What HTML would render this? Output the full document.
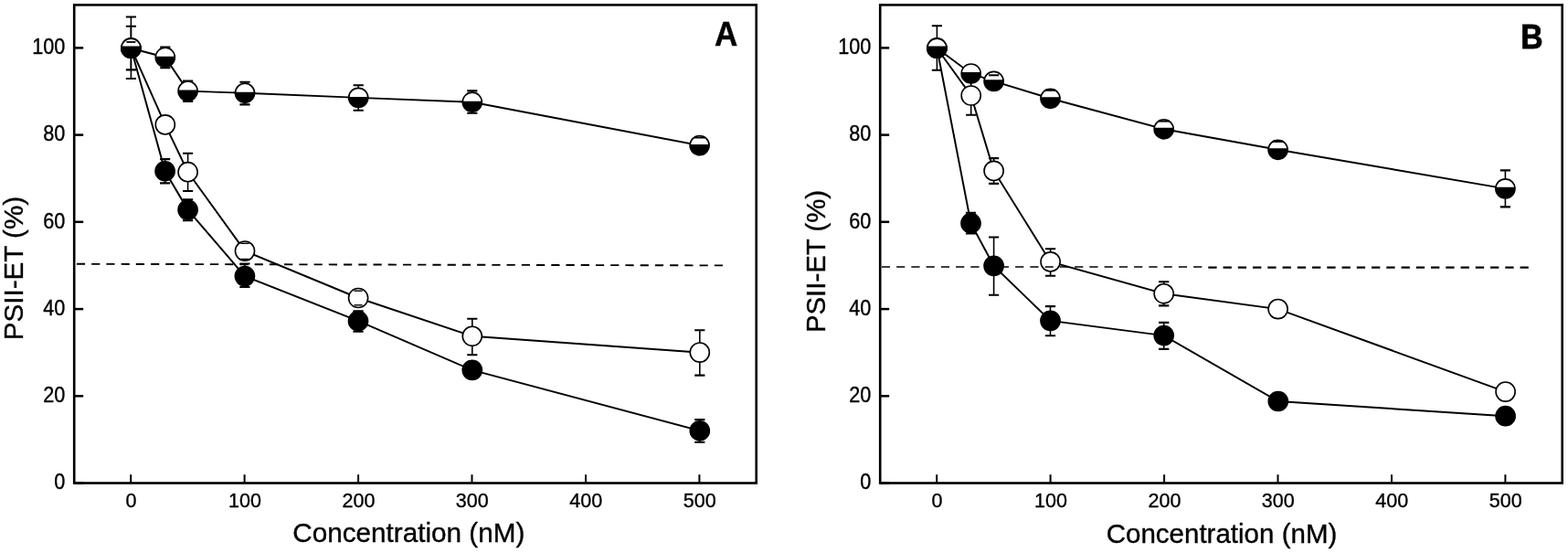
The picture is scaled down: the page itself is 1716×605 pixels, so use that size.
<!DOCTYPE html>
<html lang="en"><head><meta charset="utf-8"><title>PSII-ET vs Concentration</title>
<style>
html,body{margin:0;padding:0;background:#fff}
body{width:1716px;height:605px;overflow:hidden}
svg{display:block}
svg text{font-family:"Liberation Sans",sans-serif;fill:#000;stroke:#000;stroke-width:0.35px}
</style></head><body>
<svg width="1716" height="605" viewBox="0 0 1716 605">
<rect width="1716" height="605" fill="#fff"/>
<g id="panelA">
<g stroke="#000" stroke-width="2.5" fill="none">
<path d="M81.2 528.5h10"/>
<path d="M81.2 433.3h10"/>
<path d="M81.2 338.1h10"/>
<path d="M81.2 242.8h10"/>
<path d="M81.2 147.6h10"/>
<path d="M81.2 52.4h10"/>
<path d="M143.2 528.5v-9.3" stroke-width="2"/>
<path d="M267.6 528.5v-9.3" stroke-width="2"/>
<path d="M392.1 528.5v-9.3" stroke-width="2"/>
<path d="M516.5 528.5v-9.3" stroke-width="2"/>
<path d="M641.0 528.5v-9.3" stroke-width="2"/>
<path d="M765.4 528.5v-9.3" stroke-width="2"/>
</g>
<rect x="81.2" y="5.4" width="746.5" height="523.1" fill="none" stroke="#000" stroke-width="2.6"/>
<g font-size="22.8" fill="#000">
<text transform="translate(71.3 535.3) scale(0.95 1.04)" text-anchor="end">0</text>
<text transform="translate(71.3 440.1) scale(0.95 1.04)" text-anchor="end">20</text>
<text transform="translate(71.3 344.9) scale(0.95 1.04)" text-anchor="end">40</text>
<text transform="translate(71.3 249.6) scale(0.95 1.04)" text-anchor="end">60</text>
<text transform="translate(71.3 154.4) scale(0.95 1.04)" text-anchor="end">80</text>
<text transform="translate(71.3 59.2) scale(0.95 1.04)" text-anchor="end">100</text>
<text transform="translate(143.5 554.9) scale(0.945 1)" text-anchor="middle">0</text>
<text transform="translate(267.9 554.9) scale(0.945 1)" text-anchor="middle">100</text>
<text transform="translate(392.4 554.9) scale(0.945 1)" text-anchor="middle">200</text>
<text transform="translate(516.8 554.9) scale(0.945 1)" text-anchor="middle">300</text>
<text transform="translate(641.3 554.9) scale(0.945 1)" text-anchor="middle">400</text>
<text transform="translate(765.7 554.9) scale(0.945 1)" text-anchor="middle">500</text>
</g>
<text x="447.3" y="593.2" font-size="28.6" text-anchor="middle" textLength="254" lengthAdjust="spacingAndGlyphs">Concentration (nM)</text>
<text transform="translate(25.2 293.6) rotate(-90)" font-size="29" text-anchor="middle" textLength="157.3" lengthAdjust="spacingAndGlyphs">PSII-ET (%)</text>
<text transform="translate(794.7 50.3) scale(1.0 1.05)" font-size="35" font-weight="bold" text-anchor="middle" style="stroke-width:0.4px">A</text>
<path d="M143.4 52.7L180.6 187.3L205.6 229.6L267.9 302.1L392.0 351.2L516.8 404.9L765.8 471.3" fill="none" stroke="#000" stroke-width="1.95"/>
<g fill="none" stroke="#000" stroke-width="1.8">

<path d="M180.6 174.1V200.4" stroke-width="1.6"/><path d="M175.0 174.1h11.2M175.0 200.4h11.2" stroke-width="2.1"/>
<path d="M205.6 218.2V241.3" stroke-width="1.6"/><path d="M200.0 218.2h11.2M200.0 241.3h11.2" stroke-width="2.1"/>
<path d="M267.9 288.5V314.0" stroke-width="1.6"/><path d="M262.3 288.5h11.2M262.3 314.0h11.2" stroke-width="2.1"/>
<path d="M392.0 340.2V362.7" stroke-width="1.6"/><path d="M386.4 340.2h11.2M386.4 362.7h11.2" stroke-width="2.1"/>

<path d="M765.8 459.1V483.8" stroke-width="1.6"/><path d="M760.2 459.1h11.2M760.2 483.8h11.2" stroke-width="2.1"/>
</g>
<circle cx="143.4" cy="52.7" r="10.55" fill="#000" stroke="#000" stroke-width="1.6"/>
<circle cx="180.6" cy="187.3" r="10.55" fill="#000" stroke="#000" stroke-width="1.6"/>
<circle cx="205.6" cy="229.6" r="10.55" fill="#000" stroke="#000" stroke-width="1.6"/>
<circle cx="267.9" cy="302.1" r="10.55" fill="#000" stroke="#000" stroke-width="1.6"/>
<circle cx="392.0" cy="351.2" r="10.55" fill="#000" stroke="#000" stroke-width="1.6"/>
<circle cx="516.8" cy="404.9" r="10.55" fill="#000" stroke="#000" stroke-width="1.6"/>
<circle cx="765.8" cy="471.3" r="10.55" fill="#000" stroke="#000" stroke-width="1.6"/>
<path d="M143.4 52.7L180.8 136.4L205.6 188.2L268.0 274.6L392.1 326.0L516.8 367.8L765.8 385.6" fill="none" stroke="#000" stroke-width="1.95"/>
<g fill="none" stroke="#000" stroke-width="1.8">


<path d="M205.6 167.7V209.0" stroke-width="1.6"/><path d="M200.0 167.7h11.2M200.0 209.0h11.2" stroke-width="2.1"/>
<path d="M268.0 266.3V283.5" stroke-width="1.6"/><path d="M262.4 266.3h11.2M262.4 283.5h11.2" stroke-width="2.1"/>
<path d="M392.1 318.2V333.8" stroke-width="1.6"/><path d="M386.5 318.2h11.2M386.5 333.8h11.2" stroke-width="2.1"/>
<path d="M516.8 348.8V388.2" stroke-width="1.6"/><path d="M511.2 348.8h11.2M511.2 388.2h11.2" stroke-width="2.1"/>
<path d="M765.8 361.3V410.6" stroke-width="1.6"/><path d="M760.2 361.3h11.2M760.2 410.6h11.2" stroke-width="2.1"/>
</g>
<circle cx="143.4" cy="52.7" r="10.55" fill="#fff" stroke="#000" stroke-width="1.6"/>
<circle cx="180.8" cy="136.4" r="10.55" fill="#fff" stroke="#000" stroke-width="1.6"/>
<circle cx="205.6" cy="188.2" r="10.55" fill="#fff" stroke="#000" stroke-width="1.6"/>
<circle cx="268.0" cy="274.6" r="10.55" fill="#fff" stroke="#000" stroke-width="1.6"/>
<circle cx="392.1" cy="326.0" r="10.55" fill="#fff" stroke="#000" stroke-width="1.6"/>
<circle cx="516.8" cy="367.8" r="10.55" fill="#fff" stroke="#000" stroke-width="1.6"/>
<circle cx="765.8" cy="385.6" r="10.55" fill="#fff" stroke="#000" stroke-width="1.6"/>
<path d="M263.4 266.3h9.2" fill="none" stroke="#000" stroke-width="1.4"/>
<path d="M263.4 283.5h9.2" fill="none" stroke="#000" stroke-width="1.4"/>
<path d="M387.5 318.2h9.2" fill="none" stroke="#000" stroke-width="1.4"/>
<path d="M387.5 333.8h9.2" fill="none" stroke="#000" stroke-width="1.4"/>
<path d="M143.4 52.7L180.8 62.7L205.6 99.6L268.0 101.8L392.2 106.9L516.8 111.7L765.6 159.1" fill="none" stroke="#000" stroke-width="1.95"/>
<g fill="none" stroke="#000" stroke-width="1.8">

<path d="M180.8 51.5V74.2" stroke-width="1.6"/><path d="M175.2 51.5h11.2M175.2 74.2h11.2" stroke-width="2.1"/>
<path d="M205.6 88.6V110.9" stroke-width="1.6"/><path d="M200.0 88.6h11.2M200.0 110.9h11.2" stroke-width="2.1"/>
<path d="M268.0 89.8V114.4" stroke-width="1.6"/><path d="M262.4 89.8h11.2M262.4 114.4h11.2" stroke-width="2.1"/>
<path d="M392.2 93.2V120.7" stroke-width="1.6"/><path d="M386.6 93.2h11.2M386.6 120.7h11.2" stroke-width="2.1"/>
<path d="M516.8 99.4V123.8" stroke-width="1.6"/><path d="M511.2 99.4h11.2M511.2 123.8h11.2" stroke-width="2.1"/>
<path d="M765.6 150.5V167.7" stroke-width="1.6"/><path d="M760.0 150.5h11.2M760.0 167.7h11.2" stroke-width="2.1"/>
<path d="M143.4 18.5V86.0" stroke-width="1.6"/><path d="M137.8 18.5h11.2M137.8 86.0h11.2" stroke-width="2.1"/>
<path d="M143.4 28.7V76.4" stroke-width="1.6"/><path d="M137.8 28.7h11.2M137.8 76.4h11.2" stroke-width="2.1"/>
<path d="M143.4 45.7V59.7" stroke-width="1.6"/><path d="M137.8 45.7h11.2M137.8 59.7h11.2" stroke-width="2.1"/>
</g>
<circle cx="143.4" cy="52.7" r="10.55" fill="#fff" stroke="#000" stroke-width="1.6"/>
<path d="M133.10 50.40A10.55 10.55 0 1 0 153.70 50.40Z" fill="#000"/>
<circle cx="180.8" cy="62.7" r="10.55" fill="#fff" stroke="#000" stroke-width="1.6"/>
<path d="M170.30 61.70A10.55 10.55 0 1 0 191.30 61.70Z" fill="#000"/>
<circle cx="205.6" cy="99.6" r="10.55" fill="#fff" stroke="#000" stroke-width="1.6"/>
<path d="M195.10 98.60A10.55 10.55 0 1 0 216.10 98.60Z" fill="#000"/>
<circle cx="268.0" cy="101.8" r="10.55" fill="#fff" stroke="#000" stroke-width="1.6"/>
<path d="M257.50 100.80A10.55 10.55 0 1 0 278.50 100.80Z" fill="#000"/>
<circle cx="392.2" cy="106.9" r="10.55" fill="#fff" stroke="#000" stroke-width="1.6"/>
<path d="M381.70 105.90A10.55 10.55 0 1 0 402.70 105.90Z" fill="#000"/>
<circle cx="516.8" cy="111.7" r="10.55" fill="#fff" stroke="#000" stroke-width="1.6"/>
<path d="M506.30 110.70A10.55 10.55 0 1 0 527.30 110.70Z" fill="#000"/>
<circle cx="765.6" cy="159.1" r="10.55" fill="#fff" stroke="#000" stroke-width="1.6"/>
<path d="M755.10 158.10A10.55 10.55 0 1 0 776.10 158.10Z" fill="#000"/>
<path d="M760.0 150.5h11.2" fill="none" stroke="#000" stroke-width="2"/>
<path d="M138.4 46.0h10" stroke="#000" stroke-width="1.8" fill="none"/>
<path d="M83.9 288.8L791.4 290.4" stroke="#000" stroke-width="1.9" stroke-dasharray="9.2 7.03" fill="none"/>
</g>
<g id="panelB">
<g stroke="#000" stroke-width="2.5" fill="none">
<path d="M963.2 528.5h10"/>
<path d="M963.2 433.3h10"/>
<path d="M963.2 338.1h10"/>
<path d="M963.2 242.8h10"/>
<path d="M963.2 147.6h10"/>
<path d="M963.2 52.4h10"/>
<path d="M1025.2 528.5v-9.3" stroke-width="2"/>
<path d="M1149.6 528.5v-9.3" stroke-width="2"/>
<path d="M1274.1 528.5v-9.3" stroke-width="2"/>
<path d="M1398.5 528.5v-9.3" stroke-width="2"/>
<path d="M1523.0 528.5v-9.3" stroke-width="2"/>
<path d="M1647.4 528.5v-9.3" stroke-width="2"/>
</g>
<rect x="963.2" y="5.4" width="746.5" height="523.1" fill="none" stroke="#000" stroke-width="2.6"/>
<g font-size="22.8" fill="#000">
<text transform="translate(953.3 535.3) scale(0.95 1.04)" text-anchor="end">0</text>
<text transform="translate(953.3 440.1) scale(0.95 1.04)" text-anchor="end">20</text>
<text transform="translate(953.3 344.9) scale(0.95 1.04)" text-anchor="end">40</text>
<text transform="translate(953.3 249.6) scale(0.95 1.04)" text-anchor="end">60</text>
<text transform="translate(953.3 154.4) scale(0.95 1.04)" text-anchor="end">80</text>
<text transform="translate(953.3 59.2) scale(0.95 1.04)" text-anchor="end">100</text>
<text transform="translate(1025.5 554.9) scale(0.945 1)" text-anchor="middle">0</text>
<text transform="translate(1149.9 554.9) scale(0.945 1)" text-anchor="middle">100</text>
<text transform="translate(1274.4 554.9) scale(0.945 1)" text-anchor="middle">200</text>
<text transform="translate(1398.8 554.9) scale(0.945 1)" text-anchor="middle">300</text>
<text transform="translate(1523.3 554.9) scale(0.945 1)" text-anchor="middle">400</text>
<text transform="translate(1647.7 554.9) scale(0.945 1)" text-anchor="middle">500</text>
</g>
<text x="1337.0" y="593.9" font-size="28.6" text-anchor="middle" textLength="252.7" lengthAdjust="spacingAndGlyphs">Concentration (nM)</text>
<text transform="translate(903.1 286.0) rotate(-90)" font-size="29" text-anchor="middle" textLength="156.2" lengthAdjust="spacingAndGlyphs">PSII-ET (%)</text>
<text transform="translate(1676.5 52.6) scale(0.965 1.05)" font-size="35" font-weight="bold" text-anchor="middle" style="stroke-width:0.8px">B</text>
<path d="M1025.4 52.7L1062.5 244.2L1087.6 290.9L1149.5 350.9L1273.7 367.1L1398.8 439.0L1647.6 455.2" fill="none" stroke="#000" stroke-width="1.95"/>
<g fill="none" stroke="#000" stroke-width="1.8">

<path d="M1062.5 232.7V255.5" stroke-width="1.6"/><path d="M1056.9 232.7h11.2M1056.9 255.5h11.2" stroke-width="2.1"/>
<path d="M1087.6 259.5V322.7" stroke-width="1.6"/><path d="M1082.0 259.5h11.2M1082.0 322.7h11.2" stroke-width="2.1"/>
<path d="M1149.5 335.1V367.3" stroke-width="1.6"/><path d="M1143.9 335.1h11.2M1143.9 367.3h11.2" stroke-width="2.1"/>
<path d="M1273.7 352.9V381.9" stroke-width="1.6"/><path d="M1268.1 352.9h11.2M1268.1 381.9h11.2" stroke-width="2.1"/>


</g>
<circle cx="1025.4" cy="52.7" r="10.55" fill="#000" stroke="#000" stroke-width="1.6"/>
<circle cx="1062.5" cy="244.2" r="10.55" fill="#000" stroke="#000" stroke-width="1.6"/>
<circle cx="1087.6" cy="290.9" r="10.55" fill="#000" stroke="#000" stroke-width="1.6"/>
<circle cx="1149.5" cy="350.9" r="10.55" fill="#000" stroke="#000" stroke-width="1.6"/>
<circle cx="1273.7" cy="367.1" r="10.55" fill="#000" stroke="#000" stroke-width="1.6"/>
<circle cx="1398.8" cy="439.0" r="10.55" fill="#000" stroke="#000" stroke-width="1.6"/>
<circle cx="1647.6" cy="455.2" r="10.55" fill="#000" stroke="#000" stroke-width="1.6"/>
<path d="M1025.4 52.7L1062.7 104.5L1087.6 186.9L1149.6 286.4L1273.7 321.3L1398.6 338.1L1647.6 428.6" fill="none" stroke="#000" stroke-width="1.95"/>
<g fill="none" stroke="#000" stroke-width="1.8">

<path d="M1062.7 83.2V125.8" stroke-width="1.6"/><path d="M1057.1 83.2h11.2M1057.1 125.8h11.2" stroke-width="2.1"/>
<path d="M1087.6 173.1V200.9" stroke-width="1.6"/><path d="M1082.0 173.1h11.2M1082.0 200.9h11.2" stroke-width="2.1"/>
<path d="M1149.6 272.2V301.8" stroke-width="1.6"/><path d="M1144.0 272.2h11.2M1144.0 301.8h11.2" stroke-width="2.1"/>
<path d="M1273.7 308.2V334.4" stroke-width="1.6"/><path d="M1268.1 308.2h11.2M1268.1 334.4h11.2" stroke-width="2.1"/>


</g>
<circle cx="1025.4" cy="52.7" r="10.55" fill="#fff" stroke="#000" stroke-width="1.6"/>
<circle cx="1062.7" cy="104.5" r="10.55" fill="#fff" stroke="#000" stroke-width="1.6"/>
<circle cx="1087.6" cy="186.9" r="10.55" fill="#fff" stroke="#000" stroke-width="1.6"/>
<circle cx="1149.6" cy="286.4" r="10.55" fill="#fff" stroke="#000" stroke-width="1.6"/>
<circle cx="1273.7" cy="321.3" r="10.55" fill="#fff" stroke="#000" stroke-width="1.6"/>
<circle cx="1398.6" cy="338.1" r="10.55" fill="#fff" stroke="#000" stroke-width="1.6"/>
<circle cx="1647.6" cy="428.6" r="10.55" fill="#fff" stroke="#000" stroke-width="1.6"/>
<path d="M1025.4 52.7L1062.7 80.5L1087.6 88.9L1149.5 107.8L1273.7 141.3L1398.6 163.8L1647.4 206.4" fill="none" stroke="#000" stroke-width="1.95"/>
<g fill="none" stroke="#000" stroke-width="1.8">
<path d="M1025.4 28.2V76.7" stroke-width="1.6"/><path d="M1019.8 28.2h11.2M1019.8 76.7h11.2" stroke-width="2.1"/>

<path d="M1087.6 82.3V95.5" stroke-width="1.6"/><path d="M1082.0 82.3h11.2M1082.0 95.5h11.2" stroke-width="2.1"/>
<path d="M1149.5 98.8V116.8" stroke-width="1.6"/><path d="M1143.9 98.8h11.2M1143.9 116.8h11.2" stroke-width="2.1"/>
<path d="M1273.7 132.6V150.0" stroke-width="1.6"/><path d="M1268.1 132.6h11.2M1268.1 150.0h11.2" stroke-width="2.1"/>
<path d="M1398.6 154.9V172.7" stroke-width="1.6"/><path d="M1393.0 154.9h11.2M1393.0 172.7h11.2" stroke-width="2.1"/>
<path d="M1647.4 186.4V226.4" stroke-width="1.6"/><path d="M1641.8 186.4h11.2M1641.8 226.4h11.2" stroke-width="2.1"/>
</g>
<circle cx="1025.4" cy="52.7" r="10.55" fill="#fff" stroke="#000" stroke-width="1.6"/>
<path d="M1015.10 50.40A10.55 10.55 0 1 0 1035.70 50.40Z" fill="#000"/>
<circle cx="1062.7" cy="80.5" r="10.55" fill="#fff" stroke="#000" stroke-width="1.6"/>
<path d="M1052.27 78.90A10.55 10.55 0 1 0 1073.13 78.90Z" fill="#000"/>
<circle cx="1087.6" cy="88.9" r="10.55" fill="#fff" stroke="#000" stroke-width="1.6"/>
<path d="M1077.17 87.30A10.55 10.55 0 1 0 1098.03 87.30Z" fill="#000"/>
<circle cx="1149.5" cy="107.8" r="10.55" fill="#fff" stroke="#000" stroke-width="1.6"/>
<path d="M1139.07 106.20A10.55 10.55 0 1 0 1159.93 106.20Z" fill="#000"/>
<circle cx="1273.7" cy="141.3" r="10.55" fill="#fff" stroke="#000" stroke-width="1.6"/>
<path d="M1263.27 139.70A10.55 10.55 0 1 0 1284.13 139.70Z" fill="#000"/>
<circle cx="1398.6" cy="163.8" r="10.55" fill="#fff" stroke="#000" stroke-width="1.6"/>
<path d="M1388.17 162.20A10.55 10.55 0 1 0 1409.03 162.20Z" fill="#000"/>
<circle cx="1647.4" cy="206.4" r="10.55" fill="#fff" stroke="#000" stroke-width="1.6"/>
<path d="M1636.97 204.80A10.55 10.55 0 1 0 1657.83 204.80Z" fill="#000"/>
<path d="M1082.0 82.3h11.2" fill="none" stroke="#000" stroke-width="2"/>
<path d="M1143.9 98.8h11.2" fill="none" stroke="#000" stroke-width="2"/>
<path d="M1268.1 132.6h11.2" fill="none" stroke="#000" stroke-width="2"/>
<path d="M1393.0 154.9h11.2" fill="none" stroke="#000" stroke-width="2"/>
<path d="M964.85 292H1322" stroke="#000" stroke-width="1.3" stroke-dasharray="9.2 7.05" fill="none"/>
<path d="M1322.3 292.65H1672.8" stroke="#000" stroke-width="2.4" stroke-dasharray="9.3 6.95" fill="none"/>
</g>
</svg>
</body></html>
